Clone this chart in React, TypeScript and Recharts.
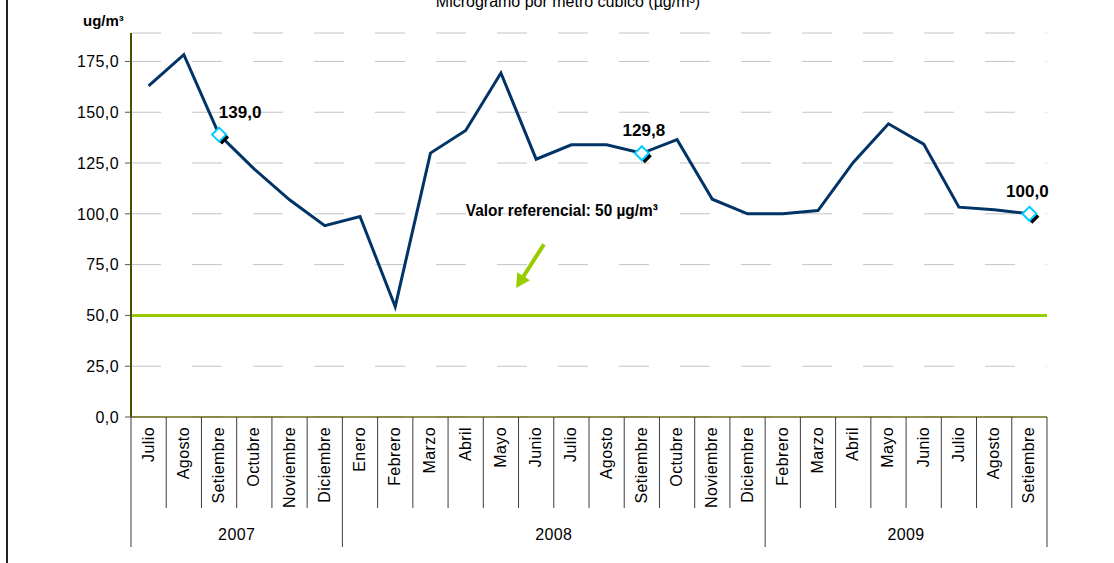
import { LineChart, Line, XAxis, YAxis, CartesianGrid, ReferenceLine } from "recharts";

// monthly PM10 averages, Jul 2007 - Sep 2009 (no Jan 2009 in the source)
const months = [
  "Julio", "Agosto", "Setiembre", "Octubre", "Noviembre", "Diciembre",
  "Enero", "Febrero", "Marzo", "Abril", "Mayo", "Junio", "Julio", "Agosto",
  "Setiembre", "Octubre", "Noviembre", "Diciembre",
  "Febrero", "Marzo", "Abril", "Mayo", "Junio", "Julio", "Agosto", "Setiembre",
];
const pm10 = [
  163.0, 178.3, 139.0, 122.0, 106.9, 94.2,
  98.7, 54.3, 129.9, 141.0, 169.3, 126.9, 134.0, 134.0, 129.8, 136.5, 107.2, 100.0,
  100.0, 101.6, 125.3, 144.3, 134.3, 103.3, 102.0, 100.0,
];
const years = ["2007", "2008", "2009"];
const yearSpans = [6, 12, 8];
const yTicks = [0, 25, 50, 75, 100, 125, 150, 175];
const referenceValue = 50;
const labelledPoints = [2, 14, 25];

const W = 1114;
const H = 563;
const PLOT = { left: 131, top: 33, right: 1047, bottom: 417 };
const Y_MAX = 189;
const BAND = (PLOT.right - PLOT.left) / months.length;
const FONT = "'Liberation Sans', Arial, sans-serif";

// label nudges so "139,0" sits clear of the line
const LABEL_DX: Record<number, number> = { 2: 21, 14: 2, 25: -2 };

const data = months.map((m, i) => ({ key: String(i), month: m, value: pm10[i] }));

const yearStarts = yearSpans.map((_, i) => yearSpans.slice(0, i).reduce((a, b) => a + b, 0));

const yPx = (v: number) => PLOT.bottom - (v / Y_MAX) * (PLOT.bottom - PLOT.top);
const fmt = (v: number) => v.toFixed(1).replace(".", ",");

function MonthTick(props: any) {
  const { x, payload } = props;
  const i = Number(payload.value);
  const y0 = PLOT.bottom;
  const isYearStart = yearStarts.includes(i);
  const yearIdx = yearStarts.findIndex((s, k) => i === s + Math.floor(yearSpans[k] / 2));
  const yearX = yearIdx >= 0 && yearSpans[yearIdx] % 2 === 0 ? x - BAND / 2 : x;
  return (
    <g>
      <line x1={x - BAND / 2} x2={x - BAND / 2} y1={y0} y2={isYearStart ? 547 : 508} stroke="#3c3c3c" />
      {i === months.length - 1 && (
        <line x1={x + BAND / 2} x2={x + BAND / 2} y1={y0} y2={547} stroke="#3c3c3c" />
      )}
      <text
        transform={`translate(${x + 5},${y0 + 10}) rotate(-90)`}
        textAnchor="end"
        fontSize={16}
        letterSpacing={0.4}
        fill="#000"
        fontFamily={FONT}
      >
        {months[i]}
      </text>
      {yearIdx >= 0 && (
        <text x={yearX} y={540} textAnchor="middle" fontSize={16} letterSpacing={0.4} fill="#000" fontFamily={FONT}>
          {years[yearIdx]}
        </text>
      )}
    </g>
  );
}

function Marker(props: any) {
  const { cx, cy, index, value } = props;
  if (!labelledPoints.includes(index)) return <g key={index} />;
  const d = 7;
  const diamond = (ox: number, oy: number) =>
    `${cx + ox},${cy + oy - d} ${cx + ox + d},${cy + oy} ${cx + ox},${cy + oy + d} ${cx + ox - d},${cy + oy}`;
  return (
    <g key={index}>
      <polygon points={diamond(3, 3)} fill="#000" />
      <polygon points={diamond(0, 0)} fill="#fff" stroke="#00ccff" strokeWidth={2} />
      <text
        x={cx + (LABEL_DX[index] ?? 0)}
        y={cy - 17}
        textAnchor="middle"
        fontSize={17}
        fontWeight="bold"
        fill="#000"
        fontFamily={FONT}
      >
        {fmt(value)}
      </text>
    </g>
  );
}

// arrow pointing at the reference line (position in category units, value)
const arrowFrom = { i: 11.72, v: 85 };
const arrowTo = { i: 10.93, v: 63.5 };
const noteAt = { i: 12.23, v: 99 };

function Arrow() {
  const ax1 = PLOT.left + arrowFrom.i * BAND;
  const ay1 = yPx(arrowFrom.v);
  const ax2 = PLOT.left + arrowTo.i * BAND;
  const ay2 = yPx(arrowTo.v);
  const dx = ax2 - ax1;
  const dy = ay2 - ay1;
  const len = Math.hypot(dx, dy);
  const ux = dx / len;
  const uy = dy / len;
  const head = 14;
  const half = 7.5;
  const bx = ax2 - ux * head;
  const by = ay2 - uy * head;
  return (
    <g>
      <line x1={ax1} y1={ay1} x2={bx + ux * 2} y2={by + uy * 2} stroke="#99cc00" strokeWidth={4} />
      <polygon
        points={`${ax2},${ay2} ${bx - uy * half},${by + ux * half} ${bx + uy * half},${by - ux * half}`}
        fill="#99cc00"
      />
    </g>
  );
}

export default function App() {
  return (
    <div style={{ position: "relative", width: W, height: H, overflow: "hidden", background: "#fff" }}>
      <style>{"body { margin: 0; }"}</style>
      <LineChart
        width={W}
        height={H}
        data={data}
        margin={{ top: PLOT.top, right: W - PLOT.right, bottom: 0, left: 0 }}
      >
        <CartesianGrid horizontal vertical={false} stroke="#c4c4c4" strokeDasharray="30 31" />
        <XAxis
          dataKey="key"
          height={H - PLOT.bottom}
          interval={0}
          padding={{ left: BAND / 2, right: BAND / 2 }}
          tickLine={false}
          tickSize={0}
          tickMargin={0}
          axisLine={{ stroke: "#6b6b1a", strokeWidth: 1.5 }}
          tick={<MonthTick />}
        />
        <XAxis xAxisId="top" dataKey="key" orientation="top" height={0} tick={false} tickLine={false}
          axisLine={{ stroke: "#999900", strokeWidth: 2 }} />
        <YAxis
          domain={[0, Y_MAX]}
          ticks={yTicks}
          width={PLOT.left}
          tickSize={6}
          tickMargin={6}
          tickFormatter={fmt}
          tick={{ fill: "#000", fontSize: 16, fontFamily: FONT, letterSpacing: 0.4 }}
          tickLine={{ stroke: "#555" }}
          axisLine={{ stroke: "#4d4d00", strokeWidth: 2 }}
        />
        <YAxis yAxisId="right" orientation="right" domain={[0, Y_MAX]} width={0} tick={false} tickLine={false}
          axisLine={{ stroke: "#999900", strokeWidth: 2 }} />
        <ReferenceLine y={referenceValue} stroke="#99cc00" strokeWidth={3} />
        <Line
          dataKey="value"
          stroke="#003366"
          strokeWidth={3}
          dot={(p: any) => <Marker {...p} />}
          activeDot={false}
          isAnimationActive={false}
        />
      </LineChart>
      <svg width={W} height={H} style={{ position: "absolute", left: 0, top: 0, pointerEvents: "none" }}>
        <rect x={6} y={0} width={2} height={H} fill="#222" />
        <text x={568} y={7} textAnchor="middle" fontSize={16} fontFamily={FONT} fill="#000">
          Microgramo por metro cúbico (µg/m³)
        </text>
        <text x={83} y={26} fontSize={15} fontWeight="bold" fontFamily={FONT} fill="#000">
          ug/m³
        </text>
        <text x={PLOT.left + noteAt.i * BAND} y={yPx(noteAt.v)} textAnchor="middle" fontSize={17}
          fontWeight="bold" fontFamily={FONT} fill="#000" textLength={192} lengthAdjust="spacingAndGlyphs">
          Valor referencial: 50 µg/m³
        </text>
        <Arrow />
      </svg>
    </div>
  );
}
